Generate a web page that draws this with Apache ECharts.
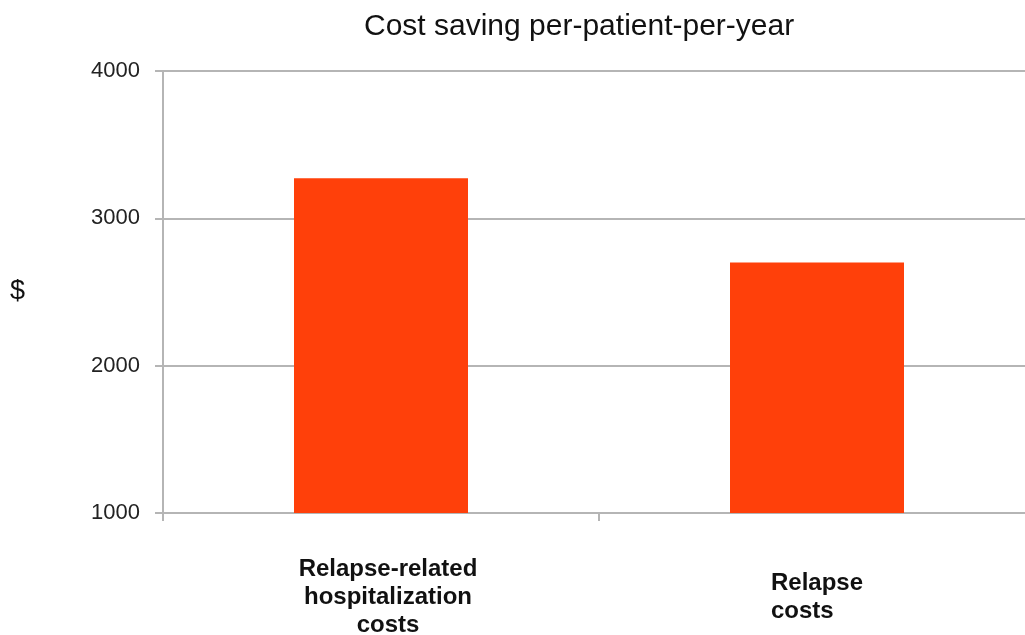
<!DOCTYPE html>
<html>
<head>
<meta charset="utf-8">
<script src="https://cdn.jsdelivr.net/npm/echarts@6/dist/echarts.min.js"></script>
<style>
  html, body { margin: 0; padding: 0; background: #fff; }
  #chart { width: 1025px; height: 635px; }
</style>
</head>
<body>
<div id="chart"></div>
<script>
const categories = ['Relapse-related\nhospitalization\ncosts', 'Relapse\ncosts']
const savings = [3272, 2701]
const yTicks = { min: 1000, max: 4000, interval: 1000 }

const gridGrey = '#b5b5b5'
const chart = echarts.init(document.getElementById('chart'))

chart.setOption({
  animation: false,
  title: {
    text: 'Cost saving per-patient-per-year',
    left: 359,
    top: 7,
    textStyle: {
      fontFamily: 'Liberation Sans, Arial, sans-serif',
      fontSize: 30,
      fontWeight: 'normal',
      color: '#111'
    }
  },
  grid: {
    left: 163,
    top: 71,
    width: 872,
    bottom: 122,
    containLabel: false,
    outerBoundsMode: 'none'
  },
  xAxis: {
    type: 'category',
    data: categories,
    axisLine: { lineStyle: { color: gridGrey, width: 2 } },
    axisTick: { show: true, length: 8, lineStyle: { color: gridGrey, width: 2 } },
    axisLabel: {
      margin: 84,
      verticalAlign: 'middle',
      fontFamily: 'Liberation Sans, Arial, sans-serif',
      fontSize: 24,
      fontWeight: 'bold',
      color: '#111',
      lineHeight: 28,
      formatter: (value, idx) => {
        if (idx === 1) {
          // second label is left-aligned inside its box
          return value.split('\n').map(s => '{l|' + s + '}').join('\n')
        }
        return value.split('\n').map(s => '{c|' + s + '}').join('\n')
      },
      rich: {
        l: {
          align: 'left',
          fontFamily: 'Liberation Sans, Arial, sans-serif',
          fontSize: 24,
          fontWeight: 'bold',
          color: '#111',
          lineHeight: 28
        },
        c: {
          align: 'center',
          padding: [0, 0, 0, 14],
          fontFamily: 'Liberation Sans, Arial, sans-serif',
          fontSize: 24,
          fontWeight: 'bold',
          color: '#111',
          lineHeight: 28
        }
      }
    }
  },
  yAxis: {
    type: 'value',
    min: yTicks.min,
    max: yTicks.max,
    interval: yTicks.interval,
    name: '$',
    nameLocation: 'middle',
    nameRotate: 0,
    nameGap: 138,
    nameTextStyle: {
      fontFamily: 'Liberation Sans, Arial, sans-serif',
      fontSize: 27,
      color: '#111'
    },
    axisLine: { show: true, lineStyle: { color: gridGrey, width: 2 } },
    axisTick: { show: true, length: 8, lineStyle: { color: gridGrey, width: 2 } },
    splitLine: { lineStyle: { color: gridGrey, width: 2 } },
    axisLabel: {
      margin: 23,
      fontFamily: 'Liberation Sans, Arial, sans-serif',
      fontSize: 22,
      color: '#222',
      formatter: v => String(v)
    }
  },
  series: [{
    type: 'bar',
    data: savings,
    barWidth: 174,
    itemStyle: { color: '#ff400a' }
  }]
})
</script>
</body>
</html>
